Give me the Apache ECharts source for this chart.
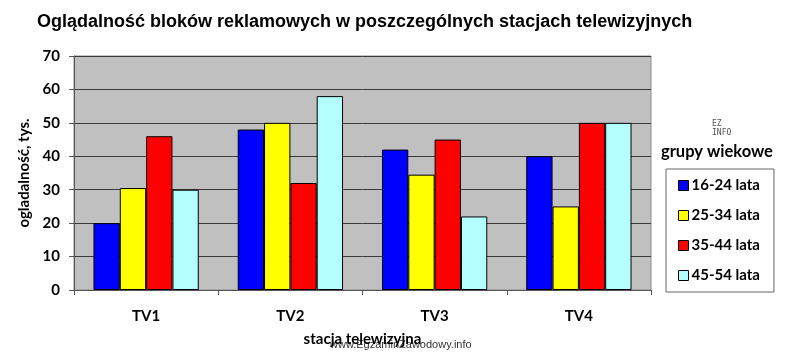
<!DOCTYPE html>
<html>
<head>
<meta charset="utf-8">
<script src="https://cdn.jsdelivr.net/npm/echarts@6/dist/echarts.min.js"></script>
<style>
  html, body { margin: 0; padding: 0; background: #fff; }
  #chart { width: 801px; height: 353px; }
</style>
</head>
<body>
<div id="chart"></div>
<script>
// stacje i grupy wiekowe
const stations = ['TV1', 'TV2', 'TV3', 'TV4']
const groups = ['16-24 lata', '25-34 lata', '35-44 lata', '45-54 lata']
const colors = ['#0000ff', '#ffff00', '#ff0000', '#b3ffff']

// oglądalność, tys.
const age16_24 = [20, 48, 42, 40]
const age25_34 = [30.5, 50, 34.5, 25]
const age35_44 = [46, 32, 45, 50]
const age45_54 = [30, 58, 22, 50]
const values = [age16_24, age25_34, age35_44, age45_54]

const yTicks = [0, 10, 20, 30, 40, 50, 60, 70]

const labelFont = 'Lato, "Open Sans", sans-serif'

const chart = echarts.init(document.getElementById('chart'))

const option = {
  animation: false,
  title: {
    text: 'Oglądalność bloków reklamowych w poszczególnych stacjach telewizyjnych',
    left: 32,
    top: 8,
    textStyle: {
      fontFamily: '"Liberation Sans", Arial, sans-serif',
      fontSize: 18,
      fontWeight: 'bold',
      color: '#000'
    }
  },
  grid: {
    left: 74,
    top: 56,
    width: 577,
    height: 234,
    show: true,
    backgroundColor: '#c0c0c0',
    borderColor: '#8c8c8c',
    borderWidth: 1
  },
  legend: {
    orient: 'vertical',
    left: 666,
    top: 169,
    padding: [9, 14, 9, 12],
    borderColor: '#666',
    borderWidth: 1,
    itemWidth: 10,
    itemHeight: 10,
    itemGap: 15,
    icon: 'rect',
    itemStyle: { borderColor: '#000', borderWidth: 1 },
    textStyle: {
      fontFamily: labelFont,
      fontSize: 15,
      fontWeight: 'bold',
      color: '#000',
      padding: [0, 0, 0, -2]
    },
    data: groups
  },
  graphic: [
    {
      type: 'text',
      left: 661,
      top: 143,
      style: {
        text: 'grupy wiekowe',
        font: 'bold 16.5px ' + labelFont,
        fill: '#000'
      }
    },
    {
      type: 'text',
      left: 712,
      top: 119,
      style: {
        text: 'EZ\nINFO',
        font: '8px "DejaVu Sans Mono", monospace',
        fill: '#555',
        lineHeight: 9
      }
    },
    {
      type: 'text',
      left: 330,
      top: 339,
      style: {
        text: 'www.EgzaminZawodowy.info',
        font: '11px "Liberation Sans Narrow", "Liberation Sans", sans-serif',
        fill: '#333'
      }
    }
  ],
  xAxis: {
    type: 'category',
    data: stations,
    name: 'stacja telewizyjna',
    nameLocation: 'middle',
    nameGap: 42,
    nameTextStyle: {
      fontFamily: labelFont,
      fontSize: 15,
      fontWeight: 'bold',
      color: '#000'
    },
    axisLine: { lineStyle: { color: '#555', width: 1 } },
    axisTick: { show: true, length: 5, lineStyle: { color: '#555' } },
    axisLabel: {
      margin: 19,
      fontFamily: labelFont,
      fontSize: 15,
      fontWeight: 'bold',
      color: '#000'
    }
  },
  yAxis: {
    type: 'value',
    min: yTicks[0],
    max: yTicks[yTicks.length - 1],
    interval: 10,
    name: 'ogladalność, tys.',
    nameLocation: 'middle',
    nameGap: 36,
    nameTextStyle: {
      fontFamily: labelFont,
      fontSize: 15,
      fontWeight: 'bold',
      color: '#000'
    },
    axisLine: { show: true, lineStyle: { color: '#555', width: 1 } },
    axisTick: { show: true, length: 5, lineStyle: { color: '#555' } },
    axisLabel: {
      margin: 14,
      fontFamily: labelFont,
      fontSize: 15,
      fontWeight: 'bold',
      color: '#000'
    },
    splitLine: { show: true, lineStyle: { color: '#3a3a3a', width: 1 } }
  },
  series: groups.map((name, i) => ({
    name: name,
    type: 'bar',
    data: values[i],
    barGap: '0%',
    barCategoryGap: '27%',
    itemStyle: {
      color: colors[i],
      borderColor: '#000',
      borderWidth: 1
    }
  }))
}

chart.setOption(option)
</script>
</body>
</html>
